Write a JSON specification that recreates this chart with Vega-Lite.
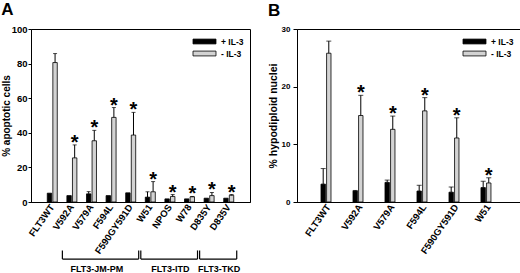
{
  "$schema": "https://vega.github.io/schema/vega-lite/v6.json",
  "background": "white",
  "padding": {"left": 0, "top": 0, "right": 0, "bottom": 0},
  "spacing": 16,
  "config": {
    "font": "Liberation Sans",
    "view": {"stroke": "black", "strokeWidth": 1},
    "axis": {"domainColor": "black", "tickColor": "black", "labelColor": "black", "titleColor": "black", "grid": false, "labelFontWeight": "bold", "titleFontWeight": "bold", "labelFontSize": 10, "titleFontSize": 11, "labelOverlap": false},
    "legend": {"orient": "top-right", "symbolType": "M-2,-0.42H2V0.42H-2Z", "symbolSize": 132, "symbolStrokeColor": "black", "symbolStrokeWidth": 0.8, "labelFontSize": 8.5, "labelFontWeight": "bold", "labelColor": "black", "labelOffset": 10, "rowPadding": 1, "offset": 6, "padding": 0},
    "title": {"anchor": "start", "frame": "bounds", "fontSize": 17, "fontWeight": "bold", "color": "black"}
  },
  "datasets": {
    "a": [
      {"sample": "FLT3WT", "cond": "+ IL-3", "mean": 5.1, "upper": null, "star": false},
      {"sample": "FLT3WT", "cond": "- IL-3", "mean": 80.6, "upper": 85.8, "star": false},
      {"sample": "V592A", "cond": "+ IL-3", "mean": 3.7, "upper": null, "star": false},
      {"sample": "V592A", "cond": "- IL-3", "mean": 25.5, "upper": 33.0, "star": true},
      {"sample": "V579A", "cond": "+ IL-3", "mean": 4.7, "upper": 6.0, "star": false},
      {"sample": "V579A", "cond": "- IL-3", "mean": 35.4, "upper": 41.4, "star": true},
      {"sample": "F594L", "cond": "+ IL-3", "mean": 3.7, "upper": null, "star": false},
      {"sample": "F594L", "cond": "- IL-3", "mean": 48.9, "upper": 54.6, "star": true},
      {"sample": "F590GY591D", "cond": "+ IL-3", "mean": 5.3, "upper": null, "star": false},
      {"sample": "F590GY591D", "cond": "- IL-3", "mean": 38.7, "upper": 51.8, "star": true},
      {"sample": "W51", "cond": "+ IL-3", "mean": 2.8, "upper": 5.9, "star": false},
      {"sample": "W51", "cond": "- IL-3", "mean": 5.9, "upper": 11.8, "star": true},
      {"sample": "NPOS", "cond": "+ IL-3", "mean": 1.8, "upper": null, "star": false},
      {"sample": "NPOS", "cond": "- IL-3", "mean": 3.2, "upper": 4.3, "star": true},
      {"sample": "W78", "cond": "+ IL-3", "mean": 1.8, "upper": null, "star": false},
      {"sample": "W78", "cond": "- IL-3", "mean": 3.0, "upper": 3.2, "star": true},
      {"sample": "D835Y", "cond": "+ IL-3", "mean": 2.2, "upper": null, "star": false},
      {"sample": "D835Y", "cond": "- IL-3", "mean": 3.7, "upper": 5.5, "star": true},
      {"sample": "D835V", "cond": "+ IL-3", "mean": 2.2, "upper": null, "star": false},
      {"sample": "D835V", "cond": "- IL-3", "mean": 3.9, "upper": 4.3, "star": true}
    ],
    "b": [
      {"sample": "FLT3WT", "cond": "+ IL-3", "mean": 3.1, "upper": 5.8, "star": false},
      {"sample": "FLT3WT", "cond": "- IL-3", "mean": 25.8, "upper": 27.9, "star": false},
      {"sample": "V592A", "cond": "+ IL-3", "mean": 1.9, "upper": 2.0, "star": false},
      {"sample": "V592A", "cond": "- IL-3", "mean": 15.0, "upper": 18.5, "star": true},
      {"sample": "V579A", "cond": "+ IL-3", "mean": 3.4, "upper": 3.8, "star": false},
      {"sample": "V579A", "cond": "- IL-3", "mean": 12.6, "upper": 14.9, "star": true},
      {"sample": "F594L", "cond": "+ IL-3", "mean": 1.9, "upper": 2.9, "star": false},
      {"sample": "F594L", "cond": "- IL-3", "mean": 15.8, "upper": 18.1, "star": true},
      {"sample": "F590GY591D", "cond": "+ IL-3", "mean": 1.7, "upper": 2.6, "star": false},
      {"sample": "F590GY591D", "cond": "- IL-3", "mean": 11.1, "upper": 14.6, "star": true},
      {"sample": "W51", "cond": "+ IL-3", "mean": 2.5, "upper": 3.6, "star": false},
      {"sample": "W51", "cond": "- IL-3", "mean": 3.3, "upper": 4.2, "star": true}
    ],
    "groups": [
      {"group": "FLT3-JM-PM", "start": "V592A", "end": "F590GY591D", "anchor": "V592A"},
      {"group": "FLT3-ITD", "start": "W51", "end": "W78", "anchor": "W51"},
      {"group": "FLT3-TKD", "start": "D835Y", "end": "D835V", "anchor": "D835Y"}
    ]
  },
  "resolve": {"scale": {"fill": "independent"}, "legend": {"fill": "independent"}},
  "hconcat": [
    {
      "title": {"text": "A", "offset": 5},
      "width": 219,
      "height": 173,
      "layer": [
        {
          "data": {"name": "a"},
          "mark": {"type": "bar", "stroke": "black", "strokeWidth": 0.8},
          "encoding": {
            "x": {"field": "sample", "type": "nominal", "title": null, "scale": {"domain": ["FLT3WT", "V592A", "V579A", "F594L", "F590GY591D", "W51", "NPOS", "W78", "D835Y", "D835V"], "paddingInner": 0.49, "paddingOuter": 0.83}, "axis": {"labelAngle": -55, "ticks": false, "labelPadding": 3, "labelFontSize": 9.5}},
            "xOffset": {"field": "cond", "type": "nominal", "scale": {"domain": ["+ IL-3", "- IL-3"], "paddingInner": 0.21, "paddingOuter": 0}},
            "y": {"field": "mean", "type": "quantitative", "title": "% apoptotic cells", "scale": {"domain": [0, 100]}, "axis": {"values": [0, 20, 40, 60, 80, 100], "labelOverlap": false, "tickSize": 3, "labelPadding": 1, "labelFontSize": 9.5, "titlePadding": 0, "titleFontSize": 10}},
            "fill": {"field": "cond", "type": "nominal", "scale": {"domain": ["+ IL-3", "- IL-3"], "range": ["#000000", "#d3d3d3"]}, "legend": {"title": null}}
          }
        },
        {
          "data": {"name": "a"},
          "transform": [{"filter": "datum.upper != null"}],
          "mark": {"type": "rule", "color": "black", "strokeWidth": 1},
          "encoding": {
            "x": {"field": "sample", "type": "nominal"},
            "xOffset": {"field": "cond", "type": "nominal"},
            "y": {"field": "mean", "type": "quantitative", "title": "% apoptotic cells", "axis": {"values": [0, 20, 40, 60, 80, 100], "labelOverlap": false, "tickSize": 3, "labelPadding": 1, "labelFontSize": 9.5, "titlePadding": 0, "titleFontSize": 10}},
            "y2": {"field": "upper"}
          }
        },
        {
          "data": {"name": "a"},
          "transform": [{"filter": "datum.upper != null"}],
          "mark": {"type": "tick", "color": "black", "thickness": 1, "size": 4},
          "encoding": {
            "x": {"field": "sample", "type": "nominal"},
            "xOffset": {"field": "cond", "type": "nominal"},
            "y": {"field": "upper", "type": "quantitative", "title": "% apoptotic cells", "axis": {"values": [0, 20, 40, 60, 80, 100], "labelOverlap": false, "tickSize": 3, "labelPadding": 1, "labelFontSize": 9.5, "titlePadding": 0, "titleFontSize": 10}}
          }
        },
        {
          "data": {"name": "a"},
          "transform": [{"filter": "datum.star"}],
          "mark": {"type": "text", "text": "*", "fontSize": 20, "fontWeight": "bold", "baseline": "alphabetic", "dy": 4, "color": "black"},
          "encoding": {
            "x": {"field": "sample", "type": "nominal"},
            "xOffset": {"field": "cond", "type": "nominal"},
            "y": {"field": "upper", "type": "quantitative", "title": "% apoptotic cells", "axis": {"values": [0, 20, 40, 60, 80, 100], "labelOverlap": false, "tickSize": 3, "labelPadding": 1, "labelFontSize": 9.5, "titlePadding": 0, "titleFontSize": 10}}
          }
        },
        {
          "data": {"name": "groups"},
          "mark": {"type": "rule", "color": "black", "strokeWidth": 1.2, "clip": false},
          "encoding": {
            "x": {"field": "start", "type": "nominal", "bandPosition": -0.45},
            "x2": {"field": "end", "bandPosition": 1.3},
            "y": {"datum": -33, "title": "% apoptotic cells", "axis": {"values": [0, 20, 40, 60, 80, 100], "labelOverlap": false, "tickSize": 3, "labelPadding": 1, "labelFontSize": 9.5, "titlePadding": 0, "titleFontSize": 10}}
          }
        },
        {
          "data": {"name": "groups"},
          "mark": {"type": "rule", "color": "black", "strokeWidth": 1.2, "clip": false},
          "encoding": {
            "x": {"field": "start", "type": "nominal", "bandPosition": -0.45},
            "y": {"datum": -33, "title": "% apoptotic cells", "axis": {"values": [0, 20, 40, 60, 80, 100], "labelOverlap": false, "tickSize": 3, "labelPadding": 1, "labelFontSize": 9.5, "titlePadding": 0, "titleFontSize": 10}},
            "y2": {"datum": -28}
          }
        },
        {
          "data": {"name": "groups"},
          "mark": {"type": "rule", "color": "black", "strokeWidth": 1.2, "clip": false},
          "encoding": {
            "x": {"field": "end", "type": "nominal", "bandPosition": 1.3},
            "y": {"datum": -33, "title": "% apoptotic cells", "axis": {"values": [0, 20, 40, 60, 80, 100], "labelOverlap": false, "tickSize": 3, "labelPadding": 1, "labelFontSize": 9.5, "titlePadding": 0, "titleFontSize": 10}},
            "y2": {"datum": -28}
          }
        },
        {
          "data": {"name": "groups"},
          "transform": [{"filter": "datum.group == 'FLT3-JM-PM'"}],
          "mark": {"type": "text", "fontSize": 9, "fontWeight": "bold", "baseline": "middle", "color": "black", "clip": false},
          "encoding": {
            "x": {"field": "anchor", "type": "nominal", "bandPosition": 3},
            "y": {"datum": -38.5, "title": "% apoptotic cells", "axis": {"values": [0, 20, 40, 60, 80, 100], "labelOverlap": false, "tickSize": 3, "labelPadding": 1, "labelFontSize": 9.5, "titlePadding": 0, "titleFontSize": 10}},
            "text": {"field": "group"}
          }
        },
        {
          "data": {"name": "groups"},
          "transform": [{"filter": "datum.group == 'FLT3-ITD'"}],
          "mark": {"type": "text", "fontSize": 9, "fontWeight": "bold", "baseline": "middle", "color": "black", "clip": false},
          "encoding": {
            "x": {"field": "anchor", "type": "nominal", "bandPosition": 2.5},
            "y": {"datum": -38.5, "title": "% apoptotic cells", "axis": {"values": [0, 20, 40, 60, 80, 100], "labelOverlap": false, "tickSize": 3, "labelPadding": 1, "labelFontSize": 9.5, "titlePadding": 0, "titleFontSize": 10}},
            "text": {"field": "group"}
          }
        },
        {
          "data": {"name": "groups"},
          "transform": [{"filter": "datum.group == 'FLT3-TKD'"}],
          "mark": {"type": "text", "fontSize": 9, "fontWeight": "bold", "baseline": "middle", "color": "black", "clip": false},
          "encoding": {
            "x": {"field": "anchor", "type": "nominal", "bandPosition": 1.5},
            "y": {"datum": -38.5, "title": "% apoptotic cells", "axis": {"values": [0, 20, 40, 60, 80, 100], "labelOverlap": false, "tickSize": 3, "labelPadding": 1, "labelFontSize": 9.5, "titlePadding": 0, "titleFontSize": 10}},
            "text": {"field": "group"}
          }
        }
      ]
    },
    {
      "title": {"text": "B", "offset": 5},
      "width": 223,
      "height": 173,
      "layer": [
        {
          "data": {"name": "b"},
          "mark": {"type": "bar", "stroke": "black", "strokeWidth": 0.8},
          "encoding": {
            "x": {"field": "sample", "type": "nominal", "title": null, "scale": {"domain": ["FLT3WT", "V592A", "V579A", "F594L", "F590GY591D", "W51"], "paddingInner": 0.53, "paddingOuter": 0.75}, "axis": {"labelAngle": -55, "ticks": false, "labelPadding": 3, "labelFontSize": 9.5}},
            "xOffset": {"field": "cond", "type": "nominal", "scale": {"domain": ["+ IL-3", "- IL-3"], "paddingInner": 0.42, "paddingOuter": 0}},
            "y": {"field": "mean", "type": "quantitative", "title": "% hypodiploid nuclei", "scale": {"domain": [0, 30]}, "axis": {"values": [0, 5, 10, 15, 20, 25, 30], "labelOverlap": false, "tickSize": 4, "labelPadding": 3, "labelFontSize": 8, "titlePadding": 3, "titleFontSize": 10.5}},
            "fill": {"field": "cond", "type": "nominal", "scale": {"domain": ["+ IL-3", "- IL-3"], "range": ["#000000", "#d3d3d3"]}, "legend": {"title": null}}
          }
        },
        {
          "data": {"name": "b"},
          "transform": [{"filter": "datum.upper != null"}],
          "mark": {"type": "rule", "color": "black", "strokeWidth": 1},
          "encoding": {
            "x": {"field": "sample", "type": "nominal"},
            "xOffset": {"field": "cond", "type": "nominal"},
            "y": {"field": "mean", "type": "quantitative"},
            "y2": {"field": "upper"}
          }
        },
        {
          "data": {"name": "b"},
          "transform": [{"filter": "datum.upper != null"}],
          "mark": {"type": "tick", "color": "black", "thickness": 1, "size": 5},
          "encoding": {
            "x": {"field": "sample", "type": "nominal"},
            "xOffset": {"field": "cond", "type": "nominal"},
            "y": {"field": "upper", "type": "quantitative"}
          }
        },
        {
          "data": {"name": "b"},
          "transform": [{"filter": "datum.star"}],
          "mark": {"type": "text", "text": "*", "fontSize": 20, "fontWeight": "bold", "baseline": "alphabetic", "dy": 4, "color": "black"},
          "encoding": {
            "x": {"field": "sample", "type": "nominal"},
            "xOffset": {"field": "cond", "type": "nominal"},
            "y": {"field": "upper", "type": "quantitative"}
          }
        }
      ]
    }
  ]
}
